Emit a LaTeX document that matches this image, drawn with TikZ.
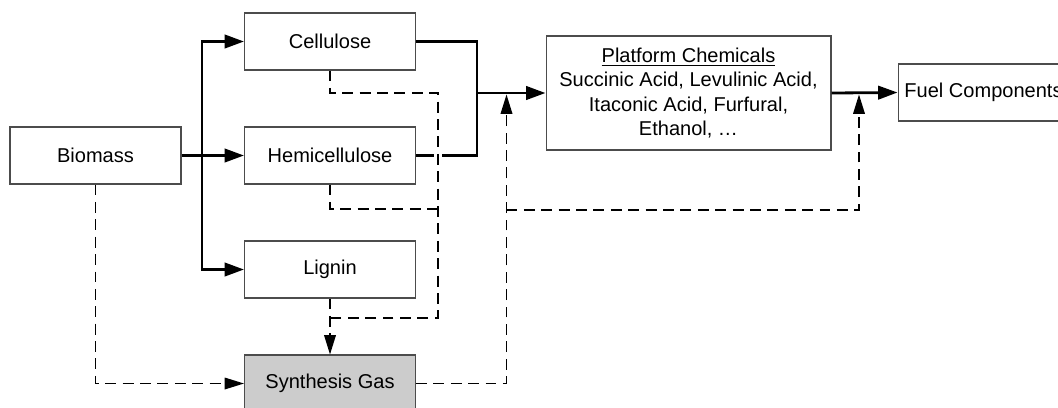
\documentclass[tikz,border=0pt]{standalone}
\usepackage{fontspec}
\setmainfont{Liberation Sans}
\usetikzlibrary{arrows.meta}

\tikzset{
  box/.style={draw=black!70, line width=0.6pt, inner sep=0pt, minimum width=3.42cm,
    minimum height=1.14cm, font=\fontsize{11.4}{13.7}\selectfont, align=center},
  line/.style={line width=1.6pt},
  flow/.style={line, -{Triangle[length=11pt,width=7.6pt]}},
  dline/.style={line width=0.85pt, dash pattern=on 6.2pt off 3.7pt},
  dflow/.style={dline, -{Triangle[length=11pt,width=6.6pt]}}
}

\begin{document}
\begin{tikzpicture}[x=0.02cm,y=-0.02cm]
\useasboundingbox (0,0) rectangle (1058,407);
%\draw[step=50,gray,very thin] (0,0) grid (1058,407); %background grid
\node[box] (bio) at (95.5,155.5) {Biomass};
\node[box] (cell) at (330,41.5) {Cellulose};
\node[box] (hemi) at (330,155.5) {Hemicellulose};
\node[box] (lig) at (330,269.5) {Lignin};
\node[box, fill=black!20] (syn) at (330,383.5) {Synthesis Gas};
\node[box, minimum width=5.7cm, minimum height=2.28cm] (plat) at (688.5,93)
  {\underline{Platform Chemicals}\\Succinic Acid, Levulinic Acid,\\Itaconic Acid, Furfural,\\Ethanol, \ldots};
\node[box] (fuel) at (983.5,92.5) {Fuel Components};

\coordinate (bus) at (202,155.5);
\coordinate (join) at (477,93);
\coordinate (ret) at (438,318);
\coordinate (lj) at (330,318);
\coordinate (up1) at (506.5,94.5);
\coordinate (up2) at (859,94.5);
\coordinate (fork) at (506.5,210);

% solid flows
\draw[flow] (bio.east) -- (hemi.west);
\draw[flow] (bus) |- (cell.west);
\draw[flow] (bus) |- (lig.west);
\draw[line] (cell.east) -| (join);
\draw[line] (hemi.east) -| (join);
\draw[flow] (join) -- (plat.west);
\draw[flow] (plat.east) -- (fuel.west);

% dashed flows
\draw[white, line width=4.6pt] (438,150) -- (438,161);
\draw[dline] (cell.south) |- (438,93) -- (ret) -- (lj);
\draw[dline] (hemi.south) |- (438,209);
\draw[dflow] (lig.south) -- (syn.north);
\draw[dflow] (bio.south) |- (syn.west);
\draw[dflow] (syn.east) -| (up1);
\draw[dflow] (fork) -| (up2);
\end{tikzpicture}
\end{document}
